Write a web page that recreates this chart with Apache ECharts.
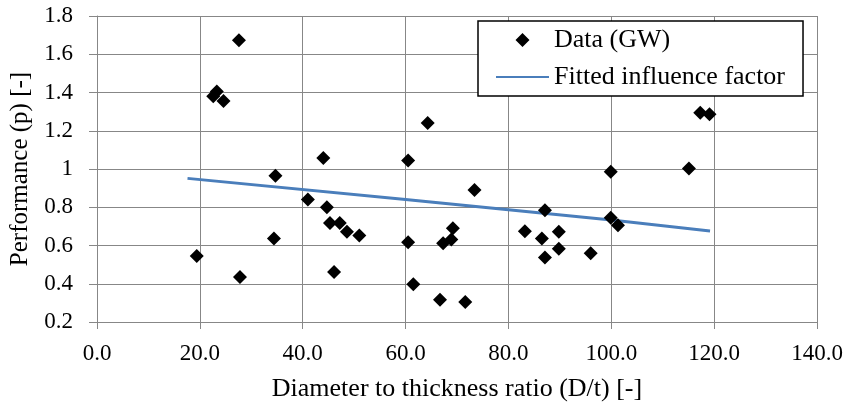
<!DOCTYPE html>
<html>
<head>
<meta charset="utf-8">
<script src="https://cdn.jsdelivr.net/npm/echarts@6/dist/echarts.min.js"></script>
<style>
  html, body { margin: 0; padding: 0; background: #fff; }
  #chart { width: 854px; height: 409px; }
</style>
</head>
<body>
<div id="chart"></div>
<script>
// Measured points: diameter-to-thickness ratio vs. performance
const dtRatio = [
  19.4, 27.8, 34.4, 27.6, 22.6, 23.3, 24.6, 34.7, 44.0, 60.5,
  64.3, 73.4, 41.0, 44.7, 45.3, 47.2, 48.6, 51.0, 46.1, 60.5,
  61.5, 66.7, 71.6, 67.3, 68.9, 69.2, 83.2, 86.5, 87.1, 87.1,
  89.8, 89.8, 96.0, 99.9, 101.3, 99.9, 115.1, 117.3, 119.1
];
const performance = [
  0.545, 0.435, 0.636, 1.673, 1.38, 1.405, 1.355, 0.965, 1.058, 1.045,
  1.24, 0.89, 0.84, 0.80, 0.718, 0.718, 0.672, 0.652, 0.462, 0.617,
  0.398, 0.316, 0.304, 0.612, 0.632, 0.69, 0.675, 0.636, 0.537, 0.784,
  0.672, 0.583, 0.56, 0.745, 0.706, 0.986, 1.003, 1.294, 1.286
];

// Fitted influence factor curve
const fitRatio = [17.6, 60.0, 100.0, 119.2];
const fitValue = [0.951, 0.840, 0.733, 0.676];

const seriesNames = ['Data (GW)', 'Fitted influence factor'];
const xTitle = 'Diameter to thickness ratio (D/t) [-]';
const yTitle = 'Performance (p) [-]';

const FONT = "'Liberation Serif', 'Times New Roman', serif";
const GRID_COLOR = '#878787';

// Legend icon: a 14px diamond centred in a 53px wide slot (zero-length
// end segments keep the icon's bounds at full slot width so it is not stretched)
const DIAMOND_ICON = 'path://M0,7L0.01,7Z M26.5,0L33.5,7L26.5,14L19.5,7Z M52.99,7L53,7Z';

const scatterData = dtRatio.map((x, i) => [x, performance[i]]);
const fitData = fitRatio.map((x, i) => [x, fitValue[i]]);

const chart = echarts.init(document.getElementById('chart'), null, { renderer: 'canvas' });

chart.setOption({
  animation: false,
  backgroundColor: '#ffffff',
  textStyle: { fontFamily: FONT, color: '#000' },
  grid: { left: 97, right: 37, top: 16, bottom: 87, containLabel: false },
  legend: {
    orient: 'vertical',
    left: 478,
    top: 21,
    padding: [6, 18, 6, 17],
    itemGap: 11,
    itemWidth: 53,
    itemHeight: 14,
    backgroundColor: '#ffffff',
    borderColor: '#000000',
    borderWidth: 1.5,
    borderRadius: 0,
    textStyle: { fontFamily: FONT, fontSize: 26, color: '#000', lineHeight: 26, padding: [0, 0, 0, 0] },
    data: [
      { name: seriesNames[0], icon: DIAMOND_ICON, itemStyle: { color: '#000000', opacity: 1 } },
      { name: seriesNames[1], itemStyle: { opacity: 0, borderWidth: 0 } }
    ]
  },
  xAxis: {
    type: 'value',
    min: 0,
    max: 140,
    interval: 20,
    name: xTitle,
    nameLocation: 'middle',
    nameGap: 54,
    nameTextStyle: { fontFamily: FONT, fontSize: 26, color: '#000' },
    axisLine: { show: true, onZero: false, lineStyle: { color: GRID_COLOR, width: 1 } },
    axisTick: { show: true, inside: false, length: 7, lineStyle: { color: GRID_COLOR, width: 1 } },
    axisLabel: {
      fontFamily: FONT, fontSize: 23, color: '#000', margin: 20,
      formatter: v => v.toFixed(1)
    },
    splitLine: { show: true, lineStyle: { color: GRID_COLOR, width: 1 } }
  },
  yAxis: {
    type: 'value',
    min: 0.2,
    max: 1.8,
    interval: 0.2,
    name: yTitle,
    nameLocation: 'middle',
    nameRotate: 90,
    nameGap: 63,
    nameTextStyle: { fontFamily: FONT, fontSize: 25, color: '#000' },
    axisLine: { show: true, onZero: false, lineStyle: { color: GRID_COLOR, width: 1 } },
    axisTick: { show: true, inside: false, length: 8, lineStyle: { color: GRID_COLOR, width: 1 } },
    axisLabel: {
      fontFamily: FONT, fontSize: 23, color: '#000', margin: 24,
      formatter: v => String(parseFloat(v.toFixed(1)))
    },
    splitLine: { show: true, lineStyle: { color: GRID_COLOR, width: 1 } }
  },
  series: [
    {
      name: seriesNames[0],
      type: 'scatter',
      symbol: 'diamond',
      symbolSize: 14,
      itemStyle: { color: '#000000', opacity: 1 },
      data: scatterData,
      z: 3
    },
    {
      name: seriesNames[1],
      type: 'line',
      symbol: 'none',
      smooth: false,
      lineStyle: { color: '#4A7EBB', width: 3 },
      itemStyle: { color: '#4A7EBB' },
      data: fitData,
      z: 2
    }
  ]
});
</script>
</body>
</html>
